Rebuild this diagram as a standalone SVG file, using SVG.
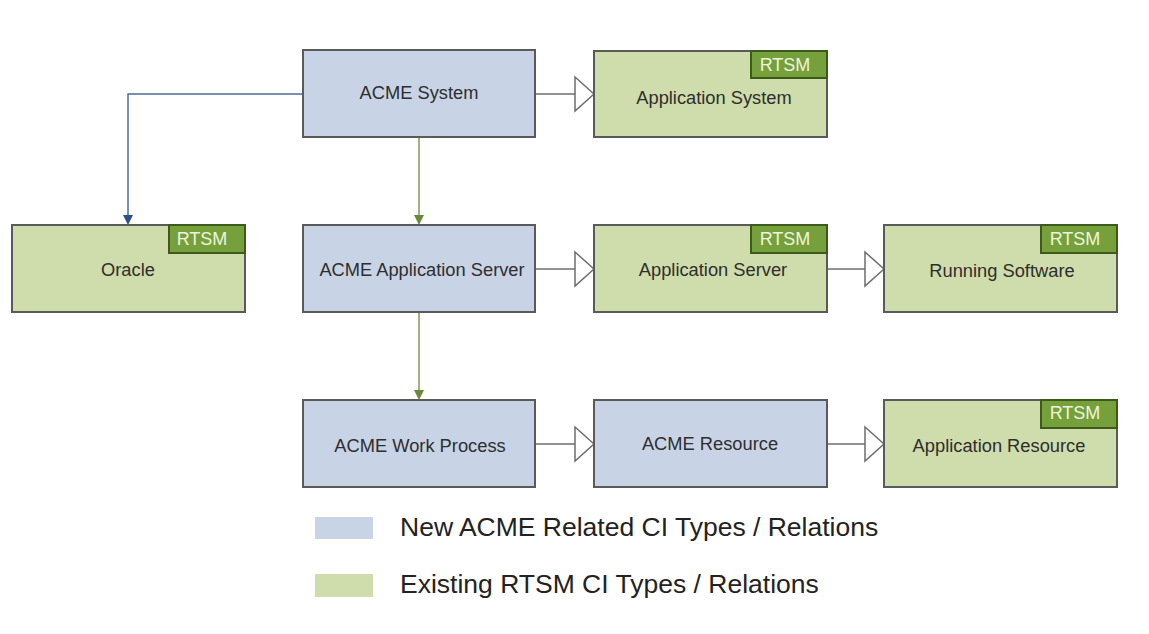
<svg xmlns="http://www.w3.org/2000/svg" width="1149" height="634" viewBox="0 0 1149 634">
<style>
.box{stroke:#5a5a5a;stroke-width:2}
.new{fill:#c8d4e5}
.old{fill:#cfdcab}
.tag{fill:#76a03c;stroke:#3d5a1c;stroke-width:2}
.lbl{font-family:"Liberation Sans",Arial,sans-serif;font-size:18.3px;fill:#2e2e2e;text-anchor:middle}
.tagt{font-family:"Liberation Sans",Arial,sans-serif;font-size:18px;fill:#eef4dc;text-anchor:middle}
.leg{font-family:"Liberation Sans",Arial,sans-serif;font-size:26.5px;fill:#222}
.line{fill:none;stroke-width:1.5}
.gen{stroke:#6e6e6e}
.tri{fill:#fff;stroke:#6e6e6e;stroke-width:1.5}
</style>
<rect width="1149" height="634" fill="#fff"/>
<g id="connectors">
<path class="line" d="M303,94 H128 V219" stroke="#4a6d9c"/>
<path d="M123,215 L133,215 L128,225 Z" fill="#2b4f86"/>
<path class="line" d="M419,137 V219" stroke="#7f9a56"/>
<path d="M414,215 L424,215 L419,225 Z" fill="#6a8a3a"/>
<path class="line" d="M419,312 V394" stroke="#7f9a56"/>
<path d="M414,390 L424,390 L419,400 Z" fill="#6a8a3a"/>
<path class="line gen" d="M535,94 H575"/>
<path class="tri" d="M575,77 L594,94 L575,111 Z"/>
<path class="line gen" d="M535,269 H575"/>
<path class="tri" d="M575,252 L594,269 L575,286 Z"/>
<path class="line gen" d="M827,269 H865"/>
<path class="tri" d="M865,252 L884,269 L865,286 Z"/>
<path class="line gen" d="M535,444 H575"/>
<path class="tri" d="M575,427 L594,444 L575,461 Z"/>
<path class="line gen" d="M827,444 H865"/>
<path class="tri" d="M865,427 L884,444 L865,461 Z"/>
</g>
<g id="acme-system">
<rect class="box new" x="303" y="50" width="232" height="87"/>
<text class="lbl" x="419" y="99">ACME System</text>
</g>
<g id="application-system">
<rect class="box old" x="594" y="51" width="233" height="86"/>
<rect class="tag" x="751" y="51" width="76" height="27"/>
<text class="tagt" x="785" y="71">RTSM</text>
<text class="lbl" x="714" y="104">Application System</text>
</g>
<g id="oracle">
<rect class="box old" x="12" y="225" width="233" height="87"/>
<rect class="tag" x="169" y="225" width="76" height="28"/>
<text class="tagt" x="202" y="245">RTSM</text>
<text class="lbl" x="128" y="276">Oracle</text>
</g>
<g id="acme-application-server">
<rect class="box new" x="303" y="225" width="232" height="87"/>
<text class="lbl" x="422" y="276">ACME Application Server</text>
</g>
<g id="application-server">
<rect class="box old" x="594" y="225" width="233" height="87"/>
<rect class="tag" x="751" y="225" width="76" height="28"/>
<text class="tagt" x="785" y="245">RTSM</text>
<text class="lbl" x="713" y="276">Application Server</text>
</g>
<g id="running-software">
<rect class="box old" x="884" y="225" width="233" height="87"/>
<rect class="tag" x="1041" y="225" width="76" height="28"/>
<text class="tagt" x="1075" y="245">RTSM</text>
<text class="lbl" x="1002" y="277">Running Software</text>
</g>
<g id="acme-work-process">
<rect class="box new" x="303" y="400" width="232" height="87"/>
<text class="lbl" x="420" y="452">ACME Work Process</text>
</g>
<g id="acme-resource">
<rect class="box new" x="594" y="400" width="233" height="87"/>
<text class="lbl" x="710" y="450">ACME Resource</text>
</g>
<g id="application-resource">
<rect class="box old" x="884" y="400" width="233" height="87"/>
<rect class="tag" x="1041" y="400" width="76" height="28"/>
<text class="tagt" x="1075" y="419">RTSM</text>
<text class="lbl" x="999" y="452">Application Resource</text>
</g>
<g id="legend">
<rect x="315" y="517" width="58" height="22" fill="#c8d4e5"/>
<text class="leg" x="400" y="536">New ACME Related CI Types / Relations</text>
<rect x="315" y="574" width="58" height="23" fill="#cfdcab"/>
<text class="leg" x="400" y="593">Existing RTSM CI Types / Relations</text>
</g>
</svg>
